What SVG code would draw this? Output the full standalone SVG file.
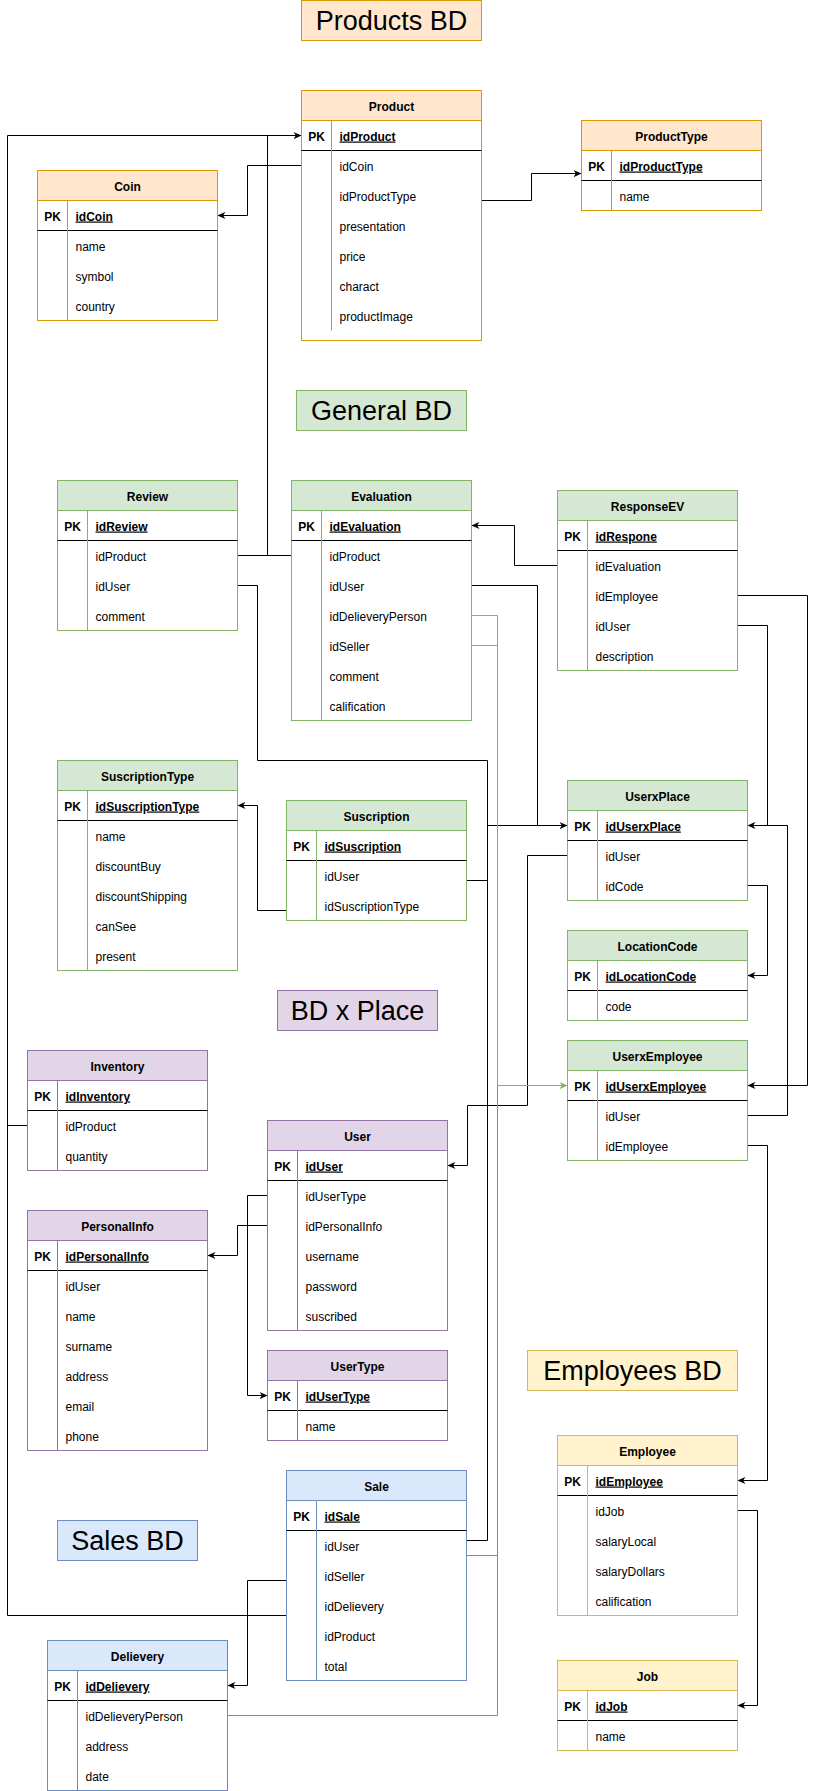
<svg xmlns="http://www.w3.org/2000/svg" width="816" height="1791" viewBox="0 0 816 1791">
<style>
text{font-family:"Liberation Sans",Arial,Helvetica,sans-serif;font-size:12px;fill:#000}
.h{font-weight:bold;text-anchor:middle}
.pk{font-weight:bold;text-anchor:middle}
.k{font-weight:bold;text-decoration:underline}
.ttl{font-size:27px;text-anchor:middle}
.body{fill:#fff}
.pkl{stroke:#000;stroke-width:1}
.o rect,.o line.d{stroke:#d79b00}.o .hd{fill:#ffe6cc}
.g rect,.g line.d{stroke:#82b366}.g .hd{fill:#d5e8d4}
.p rect,.p line.d{stroke:#9673a6}.p .hd{fill:#e1d5e7}
.b rect,.b line.d{stroke:#6c8ebf}.b .hd{fill:#dae8fc}
.y rect,.y line.d{stroke:#d6b656}.y .hd{fill:#fff2cc}
#edges path{fill:none;stroke:#000;stroke-width:1}
#edges path.gr{stroke:#82b366}
#edges path.bl{stroke:#6c8ebf}
</style>
<defs>
<marker id="a" viewBox="0 0 10 10" refX="10" refY="5" markerWidth="8" markerHeight="8" markerUnits="userSpaceOnUse" orient="auto"><path d="M0,0.5 L10,5 L0,9.5 L3,5 Z" fill="#000"/></marker>
<marker id="ag" viewBox="0 0 10 10" refX="10" refY="5" markerWidth="8" markerHeight="8" markerUnits="userSpaceOnUse" orient="auto"><path d="M0,0.5 L10,5 L0,9.5 L3,5 Z" fill="#82b366"/></marker>
</defs>
<rect width="816" height="1791" fill="#fff"/>
<g transform="translate(0.5,0.5)">

<g id="title-products" class="o"><rect class="hd" x="301" y="0" width="180" height="40"/><text class="ttl" x="391" y="29">Products BD</text></g>
<g id="title-general" class="g"><rect class="hd" x="296" y="390" width="170" height="40"/><text class="ttl" x="381" y="419">General BD</text></g>
<g id="title-place" class="p"><rect class="hd" x="277" y="990" width="160" height="40"/><text class="ttl" x="357" y="1019">BD x Place</text></g>
<g id="title-employees" class="y"><rect class="hd" x="527" y="1350" width="210" height="40"/><text class="ttl" x="632" y="1379">Employees BD</text></g>
<g id="title-sales" class="b"><rect class="hd" x="57" y="1520" width="140" height="40"/><text class="ttl" x="127" y="1549">Sales BD</text></g>

<g id="edges">
<path d="M286,1635 V1615 H7 V135 H301" marker-end="url(#a)"/>
<path d="M27,1125 H7"/>
<path d="M237,555 H291 M267,555 V135"/>
<path d="M301,165 H247 V215 H217" marker-end="url(#a)"/>
<path d="M477,200 H531 V173 H581" marker-end="url(#a)"/>
<path d="M557,565 H514 V525 H471" marker-end="url(#a)"/>
<path d="M471,585 H537 V825"/>
<path d="M237,585 H257 V760 H487 V1540 H466 V1545"/>
<path d="M466,875 V880 H487"/>
<path d="M487,825 H567" marker-end="url(#a)"/>
<path d="M737,625 H767 V825 H747" marker-end="url(#a)"/>
<path d="M747,1115 H787 V825 H767"/>
<path d="M737,595 H807 V1085 H747" marker-end="url(#a)"/>
<path d="M747,885 H767 V975 H747" marker-end="url(#a)"/>
<path d="M567,855 H527 V1105 H467 V1165 H447" marker-end="url(#a)"/>
<path d="M286,910 H257 V805 H237" marker-end="url(#a)"/>
<path class="bl" d="M466,1555 H497 M227,1715 H497 V1085"/>
<path class="gr" d="M471,615 H497 V1085 H567" marker-end="url(#ag)"/>
<path class="gr" d="M471,645 H497"/>
<path d="M267,1195 H247 V1395 H267" marker-end="url(#a)"/>
<path d="M267,1225 H237 V1255 H207" marker-end="url(#a)"/>
<path d="M286,1605 V1580 H247 V1685 H227" marker-end="url(#a)"/>
<path d="M747,1145 H767 V1480 H737" marker-end="url(#a)"/>
<path d="M737,1510 H757 V1705 H737" marker-end="url(#a)"/>
</g>

<g id="coin" class="o"><rect class="body" x="37" y="170" width="180" height="150"/><rect class="hd" x="37" y="170" width="180" height="30"/><line class="pkl" x1="37" y1="230" x2="217" y2="230"/><line class="d" x1="67" y1="200" x2="67" y2="320"/>
<text class="h" x="127" y="190">Coin</text><text class="pk" x="52" y="220">PK</text><text class="k" x="75" y="220">idCoin</text><text x="75" y="250">name</text><text x="75" y="280">symbol</text><text x="75" y="310">country</text></g>

<g id="product" class="o"><rect class="body" x="301" y="90" width="180" height="250"/><rect class="hd" x="301" y="90" width="180" height="30"/><line class="pkl" x1="301" y1="150" x2="481" y2="150"/><line class="d" x1="331" y1="120" x2="331" y2="330"/>
<text class="h" x="391" y="110">Product</text><text class="pk" x="316" y="140">PK</text><text class="k" x="339" y="140">idProduct</text><text x="339" y="170">idCoin</text><text x="339" y="200">idProductType</text><text x="339" y="230">presentation</text><text x="339" y="260">price</text><text x="339" y="290">charact</text><text x="339" y="320">productImage</text></g>

<g id="producttype" class="o"><rect class="body" x="581" y="120" width="180" height="90"/><rect class="hd" x="581" y="120" width="180" height="30"/><line class="pkl" x1="581" y1="180" x2="761" y2="180"/><line class="d" x1="611" y1="150" x2="611" y2="210"/>
<text class="h" x="671" y="140">ProductType</text><text class="pk" x="596" y="170">PK</text><text class="k" x="619" y="170">idProductType</text><text x="619" y="200">name</text></g>

<g id="review" class="g"><rect class="body" x="57" y="480" width="180" height="150"/><rect class="hd" x="57" y="480" width="180" height="30"/><line class="pkl" x1="57" y1="540" x2="237" y2="540"/><line class="d" x1="87" y1="510" x2="87" y2="630"/>
<text class="h" x="147" y="500">Review</text><text class="pk" x="72" y="530">PK</text><text class="k" x="95" y="530">idReview</text><text x="95" y="560">idProduct</text><text x="95" y="590">idUser</text><text x="95" y="620">comment</text></g>

<g id="evaluation" class="g"><rect class="body" x="291" y="480" width="180" height="240"/><rect class="hd" x="291" y="480" width="180" height="30"/><line class="pkl" x1="291" y1="540" x2="471" y2="540"/><line class="d" x1="321" y1="510" x2="321" y2="720"/>
<text class="h" x="381" y="500">Evaluation</text><text class="pk" x="306" y="530">PK</text><text class="k" x="329" y="530">idEvaluation</text><text x="329" y="560">idProduct</text><text x="329" y="590">idUser</text><text x="329" y="620">idDelieveryPerson</text><text x="329" y="650">idSeller</text><text x="329" y="680">comment</text><text x="329" y="710">calification</text></g>

<g id="responseev" class="g"><rect class="body" x="557" y="490" width="180" height="180"/><rect class="hd" x="557" y="490" width="180" height="30"/><line class="pkl" x1="557" y1="550" x2="737" y2="550"/><line class="d" x1="587" y1="520" x2="587" y2="670"/>
<text class="h" x="647" y="510">ResponseEV</text><text class="pk" x="572" y="540">PK</text><text class="k" x="595" y="540">idRespone</text><text x="595" y="570">idEvaluation</text><text x="595" y="600">idEmployee</text><text x="595" y="630">idUser</text><text x="595" y="660">description</text></g>

<g id="suscriptiontype" class="g"><rect class="body" x="57" y="760" width="180" height="210"/><rect class="hd" x="57" y="760" width="180" height="30"/><line class="pkl" x1="57" y1="820" x2="237" y2="820"/><line class="d" x1="87" y1="790" x2="87" y2="970"/>
<text class="h" x="147" y="780">SuscriptionType</text><text class="pk" x="72" y="810">PK</text><text class="k" x="95" y="810">idSuscriptionType</text><text x="95" y="840">name</text><text x="95" y="870">discountBuy</text><text x="95" y="900">discountShipping</text><text x="95" y="930">canSee</text><text x="95" y="960">present</text></g>

<g id="suscription" class="g"><rect class="body" x="286" y="800" width="180" height="120"/><rect class="hd" x="286" y="800" width="180" height="30"/><line class="pkl" x1="286" y1="860" x2="466" y2="860"/><line class="d" x1="316" y1="830" x2="316" y2="920"/>
<text class="h" x="376" y="820">Suscription</text><text class="pk" x="301" y="850">PK</text><text class="k" x="324" y="850">idSuscription</text><text x="324" y="880">idUser</text><text x="324" y="910">idSuscriptionType</text></g>

<g id="userxplace" class="g"><rect class="body" x="567" y="780" width="180" height="120"/><rect class="hd" x="567" y="780" width="180" height="30"/><line class="pkl" x1="567" y1="840" x2="747" y2="840"/><line class="d" x1="597" y1="810" x2="597" y2="900"/>
<text class="h" x="657" y="800">UserxPlace</text><text class="pk" x="582" y="830">PK</text><text class="k" x="605" y="830">idUserxPlace</text><text x="605" y="860">idUser</text><text x="605" y="890">idCode</text></g>

<g id="locationcode" class="g"><rect class="body" x="567" y="930" width="180" height="90"/><rect class="hd" x="567" y="930" width="180" height="30"/><line class="pkl" x1="567" y1="990" x2="747" y2="990"/><line class="d" x1="597" y1="960" x2="597" y2="1020"/>
<text class="h" x="657" y="950">LocationCode</text><text class="pk" x="582" y="980">PK</text><text class="k" x="605" y="980">idLocationCode</text><text x="605" y="1010">code</text></g>

<g id="userxemployee" class="g"><rect class="body" x="567" y="1040" width="180" height="120"/><rect class="hd" x="567" y="1040" width="180" height="30"/><line class="pkl" x1="567" y1="1100" x2="747" y2="1100"/><line class="d" x1="597" y1="1070" x2="597" y2="1160"/>
<text class="h" x="657" y="1060">UserxEmployee</text><text class="pk" x="582" y="1090">PK</text><text class="k" x="605" y="1090">idUserxEmployee</text><text x="605" y="1120">idUser</text><text x="605" y="1150">idEmployee</text></g>

<g id="inventory" class="p"><rect class="body" x="27" y="1050" width="180" height="120"/><rect class="hd" x="27" y="1050" width="180" height="30"/><line class="pkl" x1="27" y1="1110" x2="207" y2="1110"/><line class="d" x1="57" y1="1080" x2="57" y2="1170"/>
<text class="h" x="117" y="1070">Inventory</text><text class="pk" x="42" y="1100">PK</text><text class="k" x="65" y="1100">idInventory</text><text x="65" y="1130">idProduct</text><text x="65" y="1160">quantity</text></g>

<g id="user" class="p"><rect class="body" x="267" y="1120" width="180" height="210"/><rect class="hd" x="267" y="1120" width="180" height="30"/><line class="pkl" x1="267" y1="1180" x2="447" y2="1180"/><line class="d" x1="297" y1="1150" x2="297" y2="1330"/>
<text class="h" x="357" y="1140">User</text><text class="pk" x="282" y="1170">PK</text><text class="k" x="305" y="1170">idUser</text><text x="305" y="1200">idUserType</text><text x="305" y="1230">idPersonalInfo</text><text x="305" y="1260">username</text><text x="305" y="1290">password</text><text x="305" y="1320">suscribed</text></g>

<g id="personalinfo" class="p"><rect class="body" x="27" y="1210" width="180" height="240"/><rect class="hd" x="27" y="1210" width="180" height="30"/><line class="pkl" x1="27" y1="1270" x2="207" y2="1270"/><line class="d" x1="57" y1="1240" x2="57" y2="1450"/>
<text class="h" x="117" y="1230">PersonalInfo</text><text class="pk" x="42" y="1260">PK</text><text class="k" x="65" y="1260">idPersonalInfo</text><text x="65" y="1290">idUser</text><text x="65" y="1320">name</text><text x="65" y="1350">surname</text><text x="65" y="1380">address</text><text x="65" y="1410">email</text><text x="65" y="1440">phone</text></g>

<g id="usertype" class="p"><rect class="body" x="267" y="1350" width="180" height="90"/><rect class="hd" x="267" y="1350" width="180" height="30"/><line class="pkl" x1="267" y1="1410" x2="447" y2="1410"/><line class="d" x1="297" y1="1380" x2="297" y2="1440"/>
<text class="h" x="357" y="1370">UserType</text><text class="pk" x="282" y="1400">PK</text><text class="k" x="305" y="1400">idUserType</text><text x="305" y="1430">name</text></g>

<g id="sale" class="b"><rect class="body" x="286" y="1470" width="180" height="210"/><rect class="hd" x="286" y="1470" width="180" height="30"/><line class="pkl" x1="286" y1="1530" x2="466" y2="1530"/><line class="d" x1="316" y1="1500" x2="316" y2="1680"/>
<text class="h" x="376" y="1490">Sale</text><text class="pk" x="301" y="1520">PK</text><text class="k" x="324" y="1520">idSale</text><text x="324" y="1550">idUser</text><text x="324" y="1580">idSeller</text><text x="324" y="1610">idDelievery</text><text x="324" y="1640">idProduct</text><text x="324" y="1670">total</text></g>

<g id="delievery" class="b"><rect class="body" x="47" y="1640" width="180" height="150"/><rect class="hd" x="47" y="1640" width="180" height="30"/><line class="pkl" x1="47" y1="1700" x2="227" y2="1700"/><line class="d" x1="77" y1="1670" x2="77" y2="1790"/>
<text class="h" x="137" y="1660">Delievery</text><text class="pk" x="62" y="1690">PK</text><text class="k" x="85" y="1690">idDelievery</text><text x="85" y="1720">idDelieveryPerson</text><text x="85" y="1750">address</text><text x="85" y="1780">date</text></g>

<g id="employee" class="y"><rect class="body" x="557" y="1435" width="180" height="180"/><rect class="hd" x="557" y="1435" width="180" height="30"/><line class="pkl" x1="557" y1="1495" x2="737" y2="1495"/><line class="d" x1="587" y1="1465" x2="587" y2="1615"/>
<text class="h" x="647" y="1455">Employee</text><text class="pk" x="572" y="1485">PK</text><text class="k" x="595" y="1485">idEmployee</text><text x="595" y="1515">idJob</text><text x="595" y="1545">salaryLocal</text><text x="595" y="1575">salaryDollars</text><text x="595" y="1605">calification</text></g>

<g id="job" class="y"><rect class="body" x="557" y="1660" width="180" height="90"/><rect class="hd" x="557" y="1660" width="180" height="30"/><line class="pkl" x1="557" y1="1720" x2="737" y2="1720"/><line class="d" x1="587" y1="1690" x2="587" y2="1750"/>
<text class="h" x="647" y="1680">Job</text><text class="pk" x="572" y="1710">PK</text><text class="k" x="595" y="1710">idJob</text><text x="595" y="1740">name</text></g>

</g>
</svg>
